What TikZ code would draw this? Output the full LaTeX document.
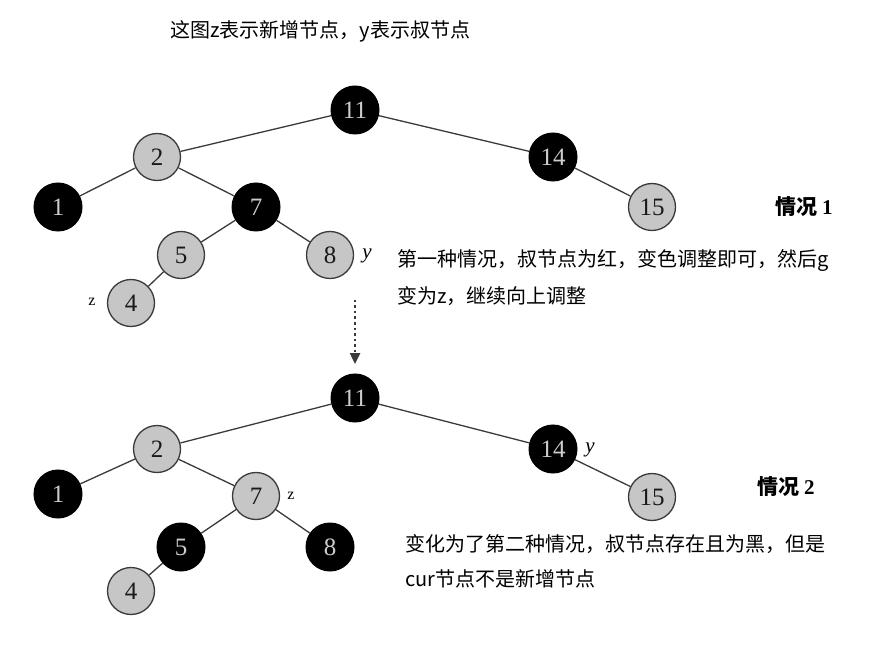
\documentclass[tikz,border=0pt]{standalone}
\usepackage{fontspec}
\setmainfont{Liberation Serif}
\newfontfamily\cjk{Noto Sans CJK SC}
\usetikzlibrary{arrows.meta}
\definecolor{grayfill}{HTML}{C6C6C6}
\definecolor{edgecol}{HTML}{3A3A3A}
\begin{document}
\begin{tikzpicture}[x=1pt,y=-1pt,
  blk/.style={circle,fill=black,draw=black,line width=1pt,minimum size=48pt,inner sep=0pt,text=white!80!black,font=\fontsize{25}{25}\selectfont},
  gry/.style={circle,fill=grayfill,draw=edgecol,line width=1.3pt,minimum size=47pt,inner sep=0pt,text=black!90,font=\fontsize{25}{25}\selectfont},
  edge/.style={draw=edgecol,line width=1.3pt},
  lbl/.style={font=\fontsize{21}{21}\selectfont\itshape},
  zl/.style={font=\fontsize{16}{16}\selectfont},
  cn/.style={font=\cjk\fontsize{20}{20}\selectfont,anchor=west,inner sep=0pt},
  case/.style={font=\cjk\bfseries\fontsize{21}{21}\selectfont,inner sep=0pt}]
\useasboundingbox (0,0) rectangle (878,660);
\node[cn] (title) at (170,31) {这图z表示新增节点，y表示叔节点};
% top tree
\node[blk] (a11) at (355,110) {11};
\node[gry] (a2) at (157,157) {2};
\node[blk] (a14) at (553,157) {14};
\node[blk] (a1) at (58,207) {1};
\node[blk] (a7) at (256,207) {7};
\node[gry] (a15) at (652,207) {15};
\node[gry] (a5) at (181,255) {5};
\node[gry] (a8) at (330,255) {8};
\node[gry] (a4) at (131,303) {4};
\draw[edge] (a11)--(a2) (a11)--(a14) (a2)--(a1) (a2)--(a7) (a14)--(a15) (a7)--(a5) (a7)--(a8) (a5)--(a4);
\node[lbl] (ly1) at (367,256) {y};
\node[zl] (lz1) at (92,302) {z};
\node[case] (c1) at (804,207) {情况 {\rmfamily\bfseries 1}};
\node[cn] (t1) at (397,261) {第一种情况，叔节点为红，变色调整即可，然后g};
\node[cn] (t2) at (397,296) {变为z，继续向上调整};
% arrow
\coordinate (ar1) at (355,300);
\coordinate (ar2) at (355,364);
\draw[edgecol,line width=2.4pt,dash pattern=on 2.5pt off 3pt,-{Triangle[width=10pt,length=11pt]}] (ar1)--(ar2);
% bottom tree
\node[blk] (b11) at (355,398) {11};
\node[gry] (b2) at (157,449) {2};
\node[blk] (b14) at (553,449) {14};
\node[blk] (b1) at (58,494) {1};
\node[gry] (b7) at (256,496) {7};
\node[gry] (b15) at (652,497) {15};
\node[blk] (b5) at (181,547) {5};
\node[blk] (b8) at (330,547) {8};
\node[gry] (b4) at (131,591) {4};
\draw[edge] (b11)--(b2) (b11)--(b14) (b2)--(b1) (b2)--(b7) (b14)--(b15) (b7)--(b5) (b7)--(b8) (b5)--(b4);
\node[lbl] (ly2) at (590,450) {y};
\node[zl] (lz2) at (291,496) {z};
\node[case] (c2) at (786,487) {情况 {\rmfamily\bfseries 2}};
\node[cn] (t3) at (405,544) {变化为了第二种情况，叔节点存在且为黑，但是};
\node[cn] (t4) at (405,579) {cur节点不是新增节点};
\end{tikzpicture}
\end{document}
